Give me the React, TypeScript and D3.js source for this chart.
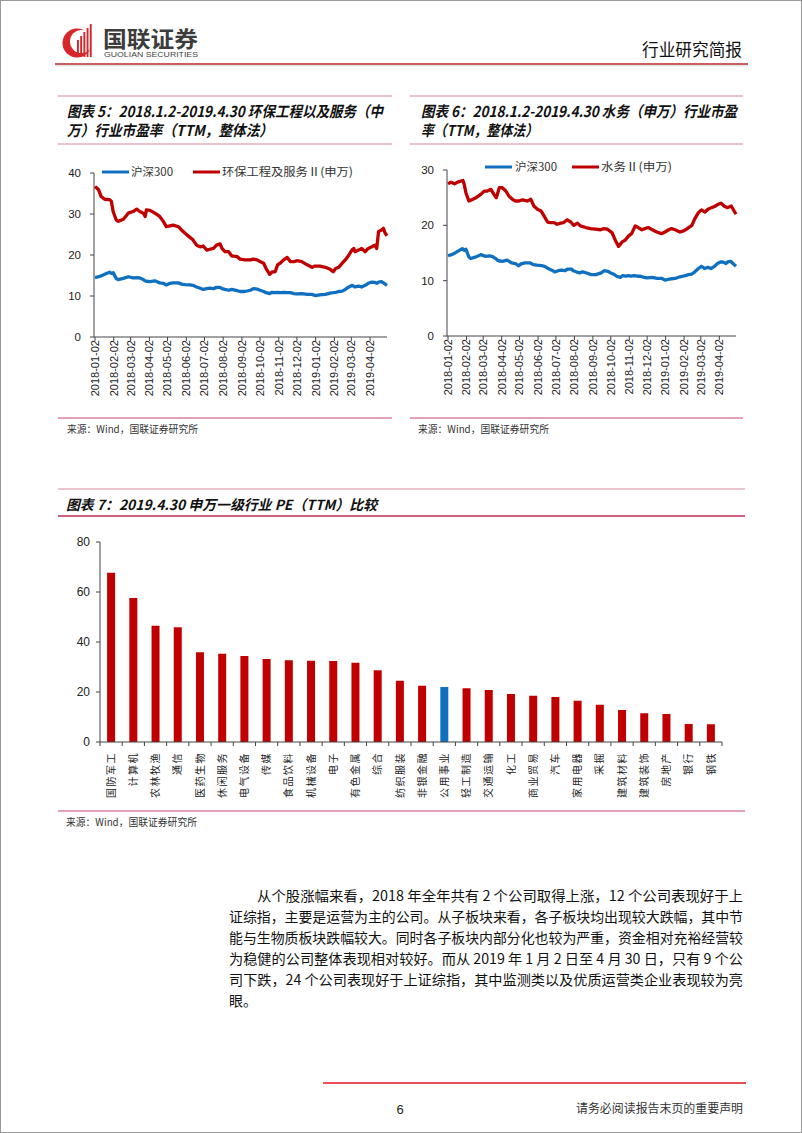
import React from "react";
import * as d3 from "d3";

// ---------------- DATA ----------------
const HS_DATES = ["2018-01-02","2018-01-08","2018-01-12","2018-01-18","2018-01-26","2018-01-29","2018-02-01","2018-02-06","2018-02-09","2018-02-18",
"2018-02-26","2018-03-06","2018-03-12","2018-03-17","2018-03-23","2018-03-26","2018-03-28","2018-04-03","2018-04-11","2018-04-19",
"2018-04-25","2018-04-30","2018-05-06","2018-05-11","2018-05-20","2018-05-25","2018-05-31","2018-06-08","2018-06-13","2018-06-19",
"2018-06-25","2018-06-30","2018-07-06","2018-07-11","2018-07-17","2018-07-22","2018-07-28","2018-07-31","2018-08-05","2018-08-11",
"2018-08-16","2018-08-25","2018-08-30","2018-09-07","2018-09-16","2018-09-21","2018-09-27","2018-10-02","2018-10-08","2018-10-12",
"2018-10-18","2018-10-22","2018-10-27","2018-10-31","2018-11-05","2018-11-10","2018-11-16","2018-11-21","2018-11-27","2018-12-02",
"2018-12-10","2018-12-19","2018-12-27","2019-01-01","2019-01-09","2019-01-18","2019-01-26","2019-01-31","2019-02-04","2019-02-09",
"2019-02-15","2019-02-20","2019-02-26","2019-03-03","2019-03-06","2019-03-08","2019-03-14","2019-03-19","2019-03-25","2019-03-30",
"2019-04-05","2019-04-10","2019-04-13","2019-04-16","2019-04-21","2019-04-24","2019-04-27","2019-04-30"];

const HS300 = [14.5,14.7,14.9,15.3,15.8,15.5,15.7,14.3,14.0,14.3,
14.7,14.4,14.5,14.4,14.0,13.7,13.6,13.5,13.7,13.2,
13.1,12.7,13.1,13.2,13.2,12.9,12.8,12.7,12.6,12.2,
11.9,11.6,11.8,11.9,11.8,12.1,12.1,11.8,11.6,11.4,
11.6,11.3,11.1,11.1,11.4,11.8,11.7,11.4,11.1,10.8,
10.6,10.9,10.8,10.9,10.8,10.9,10.8,10.8,10.6,10.5,
10.6,10.4,10.4,10.1,10.3,10.4,10.7,10.8,10.9,11.1,
11.2,11.6,12.2,12.6,12.4,12.2,12.4,12.2,12.6,13.1,
13.4,13.3,13.1,13.4,13.5,13.2,12.9,12.6];

const HUANBAO = [36.7,35.9,34.3,33.6,33.5,33.1,30.6,28.6,28.2,28.7,
30.2,30.6,31.2,30.6,30.2,29.4,31.0,30.9,30.2,29.4,
28.2,26.9,27.1,27.3,26.9,26.1,25.3,24.3,23.7,22.4,
22.0,22.2,21.2,21.4,21.6,22.4,22.7,21.6,20.8,20.8,
19.8,19.6,19.0,18.8,18.8,19.0,18.8,18.4,18.0,16.7,
15.3,15.9,15.9,17.6,18.1,18.8,19.4,18.4,18.4,18.6,
18.4,17.6,17.0,17.3,17.3,17.0,16.5,15.9,16.7,17.0,
18.0,18.8,20.0,21.2,21.6,20.8,21.2,21.6,20.8,21.6,
22.0,22.4,21.6,25.7,26.1,26.5,25.3,24.7];

const SW_DATES = ["2018-01-02","2018-01-07","2018-01-13","2018-01-18","2018-01-27","2018-01-29","2018-02-01","2018-02-06","2018-02-10","2018-02-18",
"2018-02-26","2018-03-04","2018-03-09","2018-03-15","2018-03-20","2018-03-24","2018-03-29","2018-04-03","2018-04-09","2018-04-14",
"2018-04-20","2018-04-25","2018-05-01","2018-05-07","2018-05-15","2018-05-21","2018-05-26","2018-06-01","2018-06-07","2018-06-12",
"2018-06-18","2018-06-23","2018-06-29","2018-07-04","2018-07-10","2018-07-15","2018-07-21","2018-07-27","2018-08-01","2018-08-07",
"2018-08-12","2018-08-21","2018-08-29","2018-09-06","2018-09-15","2018-09-20","2018-09-26","2018-10-04","2018-10-10","2018-10-15",
"2018-10-21","2018-10-26","2018-11-01","2018-11-06","2018-11-12","2018-11-17","2018-11-23","2018-11-28","2018-12-04","2018-12-09",
"2018-12-18","2018-12-26","2019-01-01","2019-01-07","2019-01-12","2019-01-18","2019-01-26","2019-02-01","2019-02-06","2019-02-15",
"2019-02-20","2019-02-26","2019-03-03","2019-03-09","2019-03-14","2019-03-20","2019-03-25","2019-03-31","2019-04-05","2019-04-11",
"2019-04-16","2019-04-22","2019-04-30"];

const SHUIWU = [27.5,27.8,27.5,27.8,28.1,27.5,25.9,24.4,24.6,25.0,
25.6,26.2,26.2,26.5,25.6,25.0,26.8,26.8,26.2,25.3,
24.7,24.4,24.4,24.6,24.4,24.7,23.5,22.9,22.6,21.7,
20.6,20.5,20.5,20.2,20.4,20.5,21.0,20.6,20.0,20.4,
19.9,19.6,19.4,19.3,19.2,19.4,19.3,18.7,17.2,16.2,
17.0,17.3,18.1,18.5,19.9,19.6,19.2,19.4,19.6,19.3,
18.8,18.5,18.8,19.2,19.4,19.2,18.8,19.0,19.3,20.0,
21.2,22.3,22.8,22.4,22.9,23.2,23.4,23.8,24.0,23.4,
23.2,23.5,22.0];

const X_TICK_LABELS = ["2018-01-02","2018-02-02","2018-03-02","2018-04-02","2018-05-02","2018-06-02","2018-07-02","2018-08-02",
"2018-09-02","2018-10-02","2018-11-02","2018-12-02","2019-01-02","2019-02-02","2019-03-02","2019-04-02"];
const X_DOMAIN = ["2018-01-02", "2019-04-30"];

const Y5_TICKS = [0, 10, 20, 30, 40];
const Y6_TICKS = [0, 10, 20, 30];
const Y7_TICKS = [0, 20, 40, 60, 80];

const PE_INDUSTRIES = ["国防军工","计算机","农林牧渔","通信","医药生物","休闲服务","电气设备","传媒","食品饮料","机械设备",
"电子","有色金属","综合","纺织服装","非银金融","公用事业","轻工制造","交通运输","化工","商业贸易",
"汽车","家用电器","采掘","建筑材料","建筑装饰","房地产","银行","钢铁"];
const PE_VALUES = [67.7,57.6,46.5,45.9,35.9,35.3,34.4,33.2,32.7,32.5,
32.4,31.7,28.7,24.5,22.5,22.0,21.5,20.8,19.2,18.5,
18.0,16.5,14.9,12.8,11.5,11.2,7.2,7.1];
const PE_HIGHLIGHT = "公用事业";

const BODY_LINES = [
  "从个股涨幅来看，2018 年全年共有 2 个公司取得上涨，12 个公司表现好于上",
  "证综指，主要是运营为主的公司。从子板块来看，各子板块均出现较大跌幅，其中节",
  "能与生物质板块跌幅较大。同时各子板块内部分化也较为严重，资金相对充裕经营较",
  "为稳健的公司整体表现相对较好。而从 2019 年 1 月 2 日至 4 月 30 日，只有 9 个公",
  "司下跌，24 个公司表现好于上证综指，其中监测类以及优质运营类企业表现较为亮",
  "眼。",
];

// ---------------- STYLE ----------------
const RED = "#C00000";
const BLUE = "#1070C0";
const PINK = "#D9869C";
const CJK = "'Noto Sans CJK SC', 'Noto Sans', sans-serif";
const LATIN = "'Liberation Sans', Arial, 'Noto Sans CJK SC', sans-serif";
const NARROW = "'Liberation Sans Narrow', 'Liberation Sans', Arial, sans-serif";
const AXIS = "#444";

const parse = d3.timeParse("%Y-%m-%d");

type Series = { dates: string[]; values: number[]; color: string };

function LineChart(props: {
  x0: number; x1: number; xLabel0: number; yTop: number; yBottom: number; yMax: number;
  ticks: number[]; series: Series[];
  legend: { lx: number; tx: number; tw: number; text: string; color: string }[];
  legendY: number;
}) {
  const { x0, x1, xLabel0, yTop, yBottom, yMax, ticks, series, legend, legendY } = props;
  const x = d3.scaleTime()
    .domain(X_DOMAIN.map((d) => parse(d) as Date))
    .range([xLabel0, x1]);
  const y = d3.scaleLinear().domain([0, yMax]).range([yBottom, yTop]);
  return (
    <g>
      {series.map((s, i) => {
        const pts = s.dates.map((d, k) => [x(parse(d) as Date), y(s.values[k])] as [number, number]);
        const line = d3.line().curve(d3.curveLinear)(pts) || "";
        return <path key={i} d={line} fill="none" stroke={s.color} strokeWidth={3.3} strokeLinejoin="round" />;
      })}
      <line x1={x0} x2={x0} y1={yTop} y2={yBottom} stroke={AXIS} strokeWidth={1} />
      {ticks.map((t) => (
        <g key={t}>
          <line x1={x0 - 4} x2={x0} y1={y(t)} y2={y(t)} stroke={AXIS} />
          <text x={x0 - 13} y={y(t)} dy="0.36em" textAnchor="end" fontFamily={LATIN} fontSize={11.5} fill="#222">{t}</text>
        </g>
      ))}
      <line x1={x0} x2={x1} y1={yBottom} y2={yBottom} stroke={AXIS} strokeWidth={1} />
      {X_TICK_LABELS.map((d) => {
        const px = x(parse(d) as Date);
        return (
          <g key={d}>
            <line x1={px} x2={px} y1={yBottom} y2={yBottom + 4} stroke={AXIS} />
            <text transform={`translate(${px},${yBottom + 3}) rotate(-90)`} dy="0.35em" textAnchor="end"
              fontFamily={LATIN} fontSize={11} fill="#222">{d}</text>
          </g>
        );
      })}
      {legend.map((l, i) => (
        <g key={i}>
          <line x1={l.lx} x2={l.lx + 27} y1={legendY} y2={legendY} stroke={l.color} strokeWidth={3} />
          <text x={l.tx} y={legendY} dy="0.36em" fontFamily={CJK} fontSize={11.5} fill="#333"
            textLength={l.tw} lengthAdjust="spacingAndGlyphs">{l.text}</text>
        </g>
      ))}
    </g>
  );
}

function BarChart() {
  const x0 = 100, x1 = 722, yTop = 542, yBottom = 742;
  const x = d3.scaleBand<string>().domain(PE_INDUSTRIES).range([x0, x1]).paddingInner(0.64).paddingOuter(0.32);
  const y = d3.scaleLinear().domain([0, 80]).range([yBottom, yTop]);
  const step = x.step();
  return (
    <g>
      {PE_INDUSTRIES.map((c, i) => (
        <rect key={c} x={x(c)} y={y(PE_VALUES[i])} width={x.bandwidth()} height={yBottom - y(PE_VALUES[i])}
          fill={c === PE_HIGHLIGHT ? BLUE : RED} />
      ))}
      <line x1={x0} x2={x0} y1={yTop} y2={yBottom} stroke={AXIS} />
      {Y7_TICKS.map((t) => (
        <g key={t}>
          <line x1={x0 - 4} x2={x0} y1={y(t)} y2={y(t)} stroke={AXIS} />
          <text x={x0 - 10} y={y(t)} dy="0.36em" textAnchor="end" fontFamily={NARROW} fontSize={12} fill="#222">{t}</text>
        </g>
      ))}
      <line x1={x0} x2={x1} y1={yBottom} y2={yBottom} stroke={AXIS} />
      {d3.range(PE_INDUSTRIES.length + 1).map((i) => (
        <line key={i} x1={x0 + i * step} x2={x0 + i * step} y1={yBottom} y2={yBottom + 4} stroke={AXIS} />
      ))}
      {PE_INDUSTRIES.map((c) => {
        const cx = (x(c) as number) + x.bandwidth() / 2;
        return (
          <text key={c} transform={`translate(${cx},${yBottom + 10}) rotate(-90)`} dy="0.36em" textAnchor="end"
            fontFamily={CJK} fontSize={10} letterSpacing={1.5} fill="#222">{c}</text>
        );
      })}
    </g>
  );
}

function Logo() {
  return (
    <g>
      <circle cx={77} cy={43} r={14.5} fill="#D7262B" />
      <circle cx={81.5} cy={41.5} r={11.5} fill="#fff" />
      {[0, 1, 2, 3, 4].map((i) => (
        <rect key={i} x={77 + i * 3.2} y={40 - i * 4} width={1.9} height={17 + i * 4} fill="#D7262B" />
      ))}
      <text x={103} y={47} fontFamily={CJK} fontWeight={700} fontSize={22} fill="#3C3C3C"
        textLength={95} lengthAdjust="spacingAndGlyphs">国联证券</text>
      <text x={104} y={57} fontFamily={LATIN} fontSize={7} fill="#444"
        textLength={94} lengthAdjust="spacingAndGlyphs">GUOLIAN SECURITIES</text>
    </g>
  );
}

function Title(p: { x: number; y: number; w: number; text: string; size?: number; family?: string }) {
  return (
    <text x={p.x} y={p.y} dy="0.36em" fontFamily={p.family || CJK} fontWeight={700} fontStyle="italic"
      fontSize={p.size || 15} fill="#111" textLength={p.w} lengthAdjust="spacingAndGlyphs">{p.text}</text>
  );
}

function Source(p: { x: number; y: number }) {
  return (
    <text x={p.x} y={p.y} dy="0.36em" fontFamily={CJK} fontSize={10} fill="#333"
      textLength={131} lengthAdjust="spacingAndGlyphs">来源：Wind，国联证券研究所</text>
  );
}

export default function App() {
  const hsSeries: Series = { dates: HS_DATES, values: HS300, color: BLUE };
  return (
    <div style={{ position: "absolute", left: 0, top: 0 }}>
      <svg width={802} height={1133} viewBox="0 0 802 1133" style={{ display: "block", background: "#fff" }}>
        <rect x={0.5} y={0.5} width={801} height={1132} fill="#fff" stroke="#999" />
        <Logo />
        <text x={642} y={50} dy="0.36em" fontFamily={CJK} fontSize={16.5} fill="#111"
          textLength={100} lengthAdjust="spacingAndGlyphs">行业研究简报</text>
        <line x1={55} x2={748} y1={64} y2={64} stroke="#B8282E" strokeWidth={1.6} />
        <line x1={55} x2={748} y1={65.8} y2={65.8} stroke="#D8D8D8" strokeWidth={1} />

        <line x1={58} x2={392} y1={96} y2={96} stroke={PINK} strokeWidth={1.2} />
        <Title x={67} y={112} w={316} text="图表 5：2018.1.2-2019.4.30 环保工程以及服务（中" />
        <Title x={67} y={131} w={206} text="万）行业市盈率（TTM，整体法）" />
        <line x1={58} x2={392} y1={144} y2={144} stroke={PINK} strokeWidth={1.2} />
        <LineChart x0={94} x1={387} xLabel0={95} yTop={173} yBottom={337} yMax={40} ticks={Y5_TICKS}
          series={[hsSeries, { dates: HS_DATES, values: HUANBAO, color: RED }]}
          legendY={172}
          legend={[
            { lx: 102, tx: 131, tw: 42, text: "沪深300", color: BLUE },
            { lx: 193, tx: 222, tw: 131, text: "环保工程及服务Ⅱ(申万)", color: RED },
          ]} />
        <line x1={58} x2={392} y1={418} y2={418} stroke={PINK} strokeWidth={1.5} />
        <Source x={67} y={429} />

        <line x1={410} x2={743} y1={96} y2={96} stroke={PINK} strokeWidth={1.2} />
        <Title x={421} y={112} w={316} text="图表 6：2018.1.2-2019.4.30 水务（申万）行业市盈" />
        <Title x={421} y={131} w={117} text="率（TTM，整体法）" />
        <line x1={410} x2={743} y1={144} y2={144} stroke={PINK} strokeWidth={1.2} />
        <LineChart x0={447} x1={736} xLabel0={448} yTop={170} yBottom={336} yMax={30} ticks={Y6_TICKS}
          series={[{ dates: HS_DATES, values: HS300, color: BLUE }, { dates: SW_DATES, values: SHUIWU, color: RED }]}
          legendY={167}
          legend={[
            { lx: 485, tx: 515, tw: 42, text: "沪深300", color: BLUE },
            { lx: 572, tx: 601, tw: 71, text: "水务Ⅱ(申万)", color: RED },
          ]} />
        <line x1={410} x2={743} y1={418} y2={418} stroke={PINK} strokeWidth={1.5} />
        <Source x={418} y={429} />

        <line x1={58} x2={745} y1={489} y2={489} stroke={PINK} strokeWidth={1.2} />
        <Title x={66} y={505} w={311} size={14} text="图表 7：2019.4.30 申万一级行业 PE（TTM）比较" />
        <line x1={58} x2={745} y1={516} y2={516} stroke="#D0607F" strokeWidth={2} />
        <BarChart />
        <line x1={58} x2={745} y1={811} y2={811} stroke={PINK} strokeWidth={1.5} />
        <Source x={66} y={822} />

        {BODY_LINES.map((l, i) => {
          const x = i === 0 ? 257 : 229;
          const full = i < BODY_LINES.length - 1;
          return (
            <text key={i} x={x} y={896 + i * 21} dy="0.36em" fontFamily={CJK} fontSize={14} fill="#111"
              textLength={full ? 743 - x : undefined} lengthAdjust={full ? "spacingAndGlyphs" : undefined}>{l}</text>
          );
        })}

        <line x1={323} x2={746} y1={1083} y2={1083} stroke="#E0141E" strokeWidth={1.6} />
        <text x={400} y={1109} dy="0.36em" textAnchor="middle" fontFamily={LATIN} fontSize={13} fill="#222">6</text>
        <text x={576} y={1109} dy="0.36em" fontFamily={CJK} fontSize={12} fill="#333"
          textLength={167} lengthAdjust="spacingAndGlyphs">请务必阅读报告末页的重要声明</text>
      </svg>
    </div>
  );
}
